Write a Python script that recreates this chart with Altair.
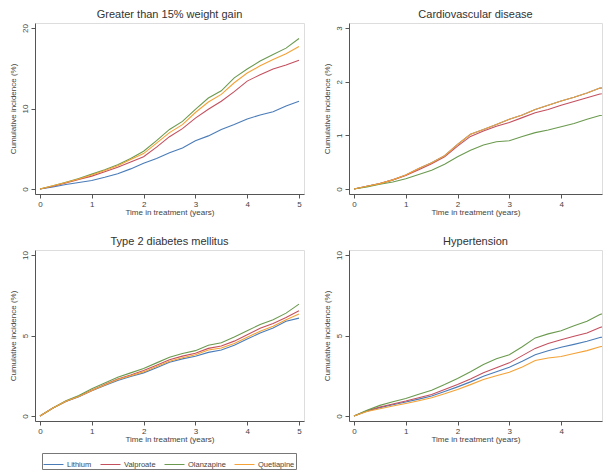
import altair as alt
import pandas as pd

drugs = ["Lithium", "Valproate", "Olanzapine", "Quetiapine"]
colors = ["#4a7cb8", "#c4505e", "#6b9a4f", "#f4a236"]
years = [0, 0.25, 0.5, 0.75, 1, 1.25, 1.5, 1.75, 2, 2.25, 2.5, 2.75, 3,
         3.25, 3.5, 3.75, 4, 4.25, 4.5, 4.75, 5]

# Greater than 15% weight gain
wg_lithium = [0, 0.25, 0.55, 0.8, 1.05, 1.45, 1.9, 2.5, 3.2, 3.8, 4.5, 5.1, 6.0,
              6.6, 7.4, 8.0, 8.7, 9.2, 9.6, 10.3, 10.9]
wg_valproate = [0, 0.35, 0.75, 1.2, 1.6, 2.15, 2.7, 3.35, 4.0, 5.2, 6.5, 7.5, 8.8,
                9.9, 10.9, 12.1, 13.4, 14.2, 14.9, 15.4, 16.0]
wg_olanzapine = [0, 0.4, 0.85, 1.3, 1.85, 2.4, 3.0, 3.8, 4.7, 6.0, 7.4, 8.4, 9.9,
                 11.3, 12.2, 13.8, 14.9, 15.9, 16.7, 17.5, 18.7]
wg_quetiapine = [0, 0.4, 0.8, 1.25, 1.75, 2.3, 2.9, 3.65, 4.4, 5.7, 7.0, 8.0, 9.5,
                 10.8, 11.75, 13.2, 14.4, 15.3, 16.1, 16.8, 17.7]

# Cardiovascular disease
cv_valproate = [0, 0.05, 0.1, 0.17, 0.25, 0.36, 0.47, 0.6, 0.8, 0.98, 1.08, 1.17, 1.24,
                1.33, 1.42, 1.48, 1.56, 1.63, 1.7, 1.77, 1.8]
cv_olanzapine = [0, 0.04, 0.09, 0.13, 0.19, 0.27, 0.35, 0.46, 0.6, 0.72, 0.82, 0.88, 0.9,
                 0.98, 1.05, 1.1, 1.16, 1.22, 1.3, 1.37, 1.4]
cv_quetiapine = [0, 0.05, 0.1, 0.17, 0.26, 0.38, 0.49, 0.62, 0.83, 1.02, 1.11, 1.2, 1.3,
                 1.38, 1.48, 1.56, 1.64, 1.71, 1.79, 1.88, 1.9]
cv_lithium = cv_quetiapine

# Type 2 diabetes mellitus
t2_lithium = [0, 0.5, 0.9, 1.2, 1.57, 1.9, 2.2, 2.45, 2.68, 3.0, 3.34, 3.55, 3.71,
              3.95, 4.1, 4.4, 4.78, 5.15, 5.46, 5.88, 6.08]
t2_valproate = [0, 0.5, 0.92, 1.23, 1.6, 1.95, 2.3, 2.55, 2.82, 3.15, 3.5, 3.72, 3.9,
                4.2, 4.35, 4.65, 5.05, 5.45, 5.75, 6.12, 6.54]
t2_olanzapine = [0, 0.5, 0.95, 1.28, 1.69, 2.05, 2.41, 2.68, 2.95, 3.3, 3.65, 3.88, 4.06,
                 4.4, 4.55, 4.9, 5.3, 5.68, 5.98, 6.39, 6.95]
t2_quetiapine = [0, 0.5, 0.91, 1.21, 1.58, 1.92, 2.27, 2.5, 2.74, 3.08, 3.4, 3.62, 3.81,
                 4.1, 4.22, 4.5, 4.89, 5.26, 5.57, 5.98, 6.33]

# Hypertension
ht_lithium = [0, 0.3, 0.52, 0.7, 0.87, 1.05, 1.24, 1.52, 1.81, 2.12, 2.47, 2.75, 3.03,
              3.4, 3.8, 4.05, 4.27, 4.45, 4.64, 4.88, 5.0]
ht_valproate = [0, 0.32, 0.56, 0.75, 0.93, 1.13, 1.34, 1.65, 1.96, 2.3, 2.68, 3.0, 3.3,
                3.75, 4.2, 4.5, 4.74, 4.95, 5.15, 5.5, 5.7]
ht_olanzapine = [0, 0.35, 0.66, 0.88, 1.09, 1.35, 1.6, 1.95, 2.33, 2.75, 3.2, 3.55, 3.81,
                 4.3, 4.85, 5.1, 5.3, 5.6, 5.88, 6.3, 6.6]
ht_quetiapine = [0, 0.28, 0.45, 0.62, 0.78, 0.95, 1.13, 1.38, 1.65, 1.95, 2.27, 2.5, 2.72,
                 3.05, 3.45, 3.6, 3.7, 3.88, 4.06, 4.3, 4.45]

panels = {
    "Greater than 15% weight gain": [wg_lithium, wg_valproate, wg_olanzapine, wg_quetiapine],
    "Cardiovascular disease": [cv_lithium, cv_valproate, cv_olanzapine, cv_quetiapine],
    "Type 2 diabetes mellitus": [t2_lithium, t2_valproate, t2_olanzapine, t2_quetiapine],
    "Hypertension": [ht_lithium, ht_valproate, ht_olanzapine, ht_quetiapine],
}

FONT = "Liberation Sans"


def make_df(series):
    rows = []
    for d, vals in zip(drugs, series):
        for t, v in zip(years, vals):
            rows.append({"Drug": d, "order": drugs.index(d), "t": t, "v": v})
    return pd.DataFrame(rows)


def panel(title, series, xdom, width, ydom, ytop, show_legend=False):
    df = make_df(series)
    xticks = [v for v in [0, 1, 2, 3, 4, 5] if v <= xdom[1]]
    legend = None
    if show_legend:
        legend = alt.Legend(title=None, orient="none", legendX=7, legendY=430,
                            direction="horizontal", columns=4, symbolType="stroke",
                            symbolSize=400, symbolStrokeWidth=1, labelFontSize=7.5,
                            labelFont=FONT, labelColor="#444", strokeColor="#777",
                            padding=1, columnPadding=6, labelOffset=3)
    return alt.Chart(df, title=alt.TitleParams(title, fontSize=11, font=FONT,
                                               fontWeight="normal", color="#333",
                                               offset=3)).mark_line(
        strokeWidth=1.1, clip=True
    ).encode(
        x=alt.X("t:Q", scale=alt.Scale(domain=xdom, nice=False, zero=False),
                axis=alt.Axis(values=xticks, title="Time in treatment (years)",
                              grid=False, tickSize=4, labelFontSize=8,
                              titleFontSize=8, titlePadding=0, labelPadding=2,
                              titleFontWeight="normal", labelFont=FONT, titleFont=FONT,
                              domainColor="#555", tickColor="#555",
                              labelColor="#444", titleColor="#444")),
        y=alt.Y("v:Q", scale=alt.Scale(domain=ydom, nice=False, zero=False),
                axis=alt.Axis(values=ytop, title="Cumulative incidence (%)",
                              grid=False, tickSize=4, labelFontSize=8, labelAngle=270,
                              labelAlign="center", labelBaseline="bottom",
                              titleFontSize=8, titlePadding=4, labelPadding=2,
                              titleFontWeight="normal", labelFont=FONT, titleFont=FONT,
                              domainColor="#555", tickColor="#555",
                              labelColor="#444", titleColor="#444")),
        color=alt.Color("Drug:N", scale=alt.Scale(domain=drugs, range=colors),
                        legend=legend),
        order="order:Q",
        detail="Drug:N",
    ).properties(width=width, height=171)


xl = [-0.0965, 5.0965]
xr = [-0.0965, 4.79]
p1 = panel("Greater than 15% weight gain", panels["Greater than 15% weight gain"],
           xl, 269, [-0.62, 20.62], [0, 10, 20], show_legend=True)
p2 = panel("Cardiovascular disease", panels["Cardiovascular disease"],
           xr, 253, [-0.093, 3.093], [0, 1, 2, 3])
p3 = panel("Type 2 diabetes mellitus", panels["Type 2 diabetes mellitus"],
           xl, 269, [-0.31, 10.31], [0, 5, 10])
p4 = panel("Hypertension", panels["Hypertension"],
           xr, 253, [-0.31, 10.31], [0, 5, 10])

chart = alt.vconcat(
    alt.hconcat(p1, p2, spacing=17),
    alt.hconcat(p3, p4, spacing=17),
    spacing=18,
).properties(padding=0).configure_view(stroke=None).configure(background="white")

chart.save("out.html", embed_options={"renderer": "svg", "actions": False})
